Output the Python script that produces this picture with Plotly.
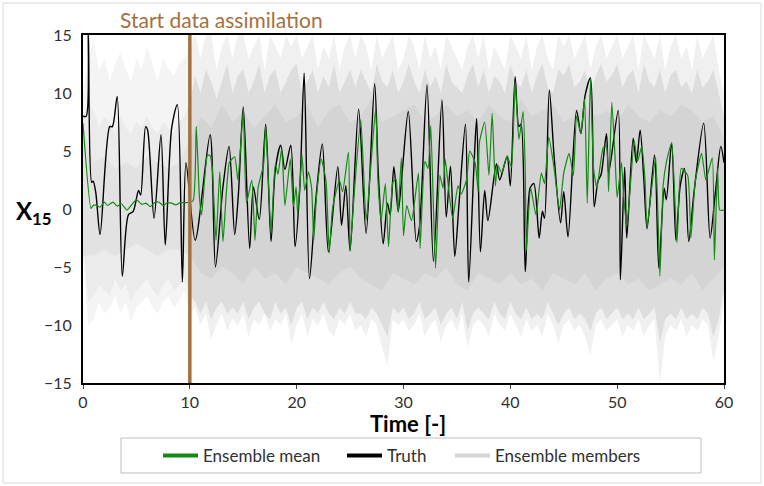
import plotly.graph_objects as go

# ---------------- data ----------------
truth = [(0, 8), (0.3, 8), (0.5, 15.5), (0.81, 2.3), (0.95, 2.4), (1.2, 1.4), (1.6, -2.2),
         (2.5, 7.1), (2.75, 7.1), (3.2, 9.7), (3.68, -5.8), (4.25, -0.5), (4.7, -0.2), (5.2, 1.6),
         (5.4, 1.2), (5.86, 7.1), (6.05, 6.8), (6.65, -0.8), (7.3, 6.4), (7.7, -3.1), (8.3, 7.0),
         (8.83, 9.0), (9.3, -6.3), (9.64, 4.0), (10.5, -2.7), (11.9, 6.4), (12.4, -5.0), (13.1, 1.9),
         (13.67, 5.4), (14.2, -2.2), (14.55, 1.35), (15.0, 8.8), (15.6, -3.4), (15.95, 1.9),
         (16.5, -0.9), (17.1, 7.3), (17.6, -2.8), (18.0, 3.4), (18.5, 5.5), (18.9, 3.4), (19.45, 5.5),
         (19.85, -3.25), (20.3, 1.9), (20.7, 11.7), (21.2, -6.0), (21.8, 0.9), (22.4, 5.6),
         (22.97, -3.7), (23.85, 3.65), (24.2, -1.4), (24.6, 2.0), (25.0, -3.6), (25.8, 8.6),
         (26.5, -2.1), (27.3, 10.8), (27.65, 2.9), (28.1, -3.0), (28.5, 0.5), (28.75, -0.5),
         (29.1, 3.65), (29.5, -0.2), (29.8, 2.3), (30.45, 8.4), (31.2, -2.8), (31.5, -1.5),
         (32.2, 10.7), (32.8, -4.5), (33.6, 9.4), (34.0, -0.7), (34.4, 3.7), (34.8, -4.1),
         (35.2, 0.5), (35.8, 7.3), (36.1, -6.3), (36.6, 3.8), (36.85, 7.8), (37.2, -3.7),
         (37.6, 1.6), (37.9, -1.0), (38.7, 3.9), (39.0, 2.5), (39.7, 4.5), (40.0, 2.0),
         (40.45, 11.4), (40.8, 7.1), (41.0, 7.3), (41.4, -5.4), (41.85, 1.8), (42.2, 2.2),
         (42.7, -2.5), (43.0, -0.2), (43.2, -0.8), (43.65, 10.25), (44.1, 4.5), (44.7, -1.2),
         (45.0, 1.5), (45.4, -2.4), (46.2, 8.5), (46.6, 6.5), (47.0, 9.8), (47.5, 11.3),
         (47.85, 0.2), (48.2, 2.4), (48.5, 3.0), (49.0, 6.5), (49.2, 3.1), (50.1, 8.5),
         (50.3, -6.1), (50.7, 3.6), (50.9, -2.5), (51.5, 6.1), (51.8, 4.0), (52.15, 6.8),
         (52.5, 2.5), (52.8, -1.7), (53.5, 4.65), (53.9, -5.1), (54.4, 1.8), (54.6, 0.8),
         (55.1, 5.7), (55.5, -2.7), (55.9, 2.0), (56.3, 3.5), (56.7, -2.8), (57.2, 1.5),
         (58.1, 7.4), (58.7, -2.5), (59.2, 1.5), (59.7, 5.4), (60, 4.0)]

ens_mean = [(0, 7.4), (0.75, 0.05), (1.0, 0.35), (1.3, 0.3), (1.6, 0.15), (2.0, 0.6), (2.3, 0.3),
            (2.8, 0.6), (3.2, 0.25), (3.6, 0.45), (4.1, -0.1), (4.5, 0.3), (5.0, 0.8), (5.5, 0.4),
            (5.9, 0.5), (6.3, 0.2), (6.7, 0.55), (7.1, 0.6), (7.5, 0.3), (7.9, 0.55), (8.3, 0.5),
            (8.7, 0.35), (9.1, 0.55), (9.7, 0.55), (10.3, 0.7), (10.6, 7.1), (10.9, 1.0),
            (11.1, -0.5), (11.65, 4.65), (11.9, 4.6), (12.1, 3.5), (12.45, -2.7), (12.8, 3.2),
            (13.1, -2.8), (13.7, 4.0), (14.2, 4.5), (14.5, 2.5), (15.0, 8.4), (15.3, 0.5),
            (15.8, 2.5), (16.1, -2.7), (16.4, 1.9), (16.9, 3.8), (17.1, 7.2), (17.6, -2.1),
            (18.0, 3.9), (18.25, 3.0), (18.6, 5.2), (18.9, 0.3), (19.4, 4.3), (19.7, 0.2),
            (19.95, 1.9), (20.1, -0.5), (20.5, 4.65), (20.75, 1.6), (21.1, 3.2), (21.4, 1.8),
            (21.6, -2.7), (21.85, 1.0), (22.3, 4.3), (22.75, 2.4), (23.05, -3.8), (23.35, 0.0),
            (24.0, 2.5), (24.3, 1.5), (24.85, 4.9), (25.0, -3.6), (25.4, 1.5), (26.0, 7.7),
            (26.5, -1.0), (26.9, 3.2), (27.4, 8.7), (27.6, 2.6), (27.9, -1.0), (28.3, 2.2),
            (28.6, -3.25), (29.0, 2.3), (29.3, 2.6), (29.5, -0.3), (29.8, 4.4), (30.0, -2.3),
            (30.3, 0.3), (30.75, -1.0), (31.4, 3.1), (31.55, -3.4), (32.0, 4.1), (32.3, 3.5),
            (32.55, 7.2), (33.0, -5.1), (33.4, 2.9), (33.7, 1.8), (33.9, 4.3), (34.25, 1.5),
            (34.6, -0.8), (35.1, 2.0), (35.4, 1.3), (35.9, 2.5), (36.2, 5.0), (36.7, 4.0),
            (37.0, 1.5), (37.1, 5.7), (37.6, 7.5), (38.0, 2.9), (38.3, 8.25), (38.6, 2.0),
            (38.8, 3.8), (39.2, 3.1), (39.7, 4.6), (40.1, 3.6), (40.45, 11.0), (40.8, 6.0),
            (41.2, 8.4), (41.4, 3.0), (41.5, -3.6), (41.9, 1.8), (42.4, -0.5), (42.9, 3.1),
            (43.2, 2.2), (43.6, 6.2), (44.1, 3.5), (44.6, -0.1), (45.0, 3.1), (45.5, 4.8),
            (45.9, 2.9), (46.2, 8.0), (46.6, 6.5), (46.95, 9.5), (47.2, 0.5), (47.5, 11.2),
            (47.8, 3.4), (48.1, 1.8), (48.7, 5.3), (49.0, 5.4), (49.2, 1.5), (49.5, 9.2),
            (49.8, 4.5), (50.0, 1.0), (50.4, 4.0), (50.6, 1.2), (50.9, -1.5), (51.6, 5.8),
            (51.9, 4.1), (52.3, 5.4), (52.6, 2.6), (52.8, -1.5), (53.6, 4.45), (54.0, -5.8),
            (54.3, 2.0), (54.6, 4.0), (55.1, 5.7), (55.6, -2.9), (56.0, 3.5), (56.6, 2.9),
            (56.9, -2.5), (57.3, 2.3), (57.9, 4.8), (58.3, 2.5), (58.9, 4.4), (59.1, -4.4),
            (59.4, 3.5), (59.6, -0.1), (60.0, -0.1)]

# ensemble-member spread, outer envelope, every 0.5 time unit
members_max = [10, 13, 14.5, 12, 13, 11, 12.5, 13.5, 12, 11, 13, 12, 14, 12.5, 11, 13, 12, 11.5, 12.5, 13,
               14, 15, 13, 15, 15, 12, 14, 15, 13, 15, 15, 13, 14, 15, 12, 15, 14, 13, 15, 14,
               15, 13, 14, 15, 12, 14, 13, 15, 12, 14, 15, 13, 15, 14, 12, 15, 13, 14, 15, 12,
               13, 15, 14, 12, 15, 13, 14, 12, 15, 14, 13, 12, 14, 15, 13, 15, 12, 14, 13, 12,
               15, 14, 13, 15, 12, 14, 15, 13, 12, 15, 14, 15, 13, 14, 15, 12, 14, 15, 13, 14,
               15, 13, 14, 15, 12, 15, 14, 13, 15, 12, 14, 15, 13, 14, 12, 15, 13, 14, 15, 12, 10]
members_min = [-4, -10, -9.5, -8, -9, -8.5, -7.5, -9, -8, -9.7, -8.5, -8, -7.5, -8.5, -9, -8, -7.5, -8.5, -8, -7,
               -9, -8.5, -10, -9, -11.3, -10, -9, -10.5, -9.5, -10, -9, -11, -9.5, -10, -9, -10.5, -9.5, -10, -9, -11.6,
               -10, -9, -11, -9.5, -10, -9, -10.5, -11, -9.5, -10, -9, -10.5, -10, -11, -9.5, -10, -12, -13.5, -9.5, -10,
               -9.5, -10.5, -10, -9, -11, -10, -9.5, -11.5, -10, -9.5, -10.5, -9, -12, -10, -9.5, -10, -11, -9, -10, -10.5,
               -9, -10, -11, -9.5, -10.5, -10, -11, -9, -10, -11.5, -10, -9.5, -10.5, -10, -11, -12.6, -10, -9.5, -10.5, -10,
               -9.5, -11, -10, -10.5, -9.5, -11, -10, -9.5, -15, -11, -10, -10.5, -9.5, -11, -10, -10.5, -9.5, -10, -13.2, -11, -8]

# middle envelope (where most members lie), every 0.5 time unit
members_mid_upper = [8, 9, 8.5, 7, 8, 7.5, 6.5, 8, 7, 6.5, 7.5, 7, 8, 7, 6.5, 7.5, 7, 6.5, 7.5, 8,
                     9, 11.5, 10, 12, 11, 9.5, 11, 12.5, 10, 11.5, 12, 10, 11, 12.5, 10, 11.5, 12, 10, 11, 12,
                     12.5, 10, 11, 12, 10, 11.5, 10.5, 12.5, 10, 11, 12, 10.5, 12, 11, 10, 12.5, 11, 10.5, 12, 10,
                     11, 12.5, 11, 10, 12, 10.5, 11.5, 10, 12.5, 11, 10.5, 10, 11.5, 12.5, 10.5, 12, 10, 11.5, 11, 10,
                     12.5, 11, 10.5, 12, 10, 11.5, 12.5, 10.5, 10, 12, 11.5, 12.5, 10.5, 11, 12, 10, 11.5, 12.5, 11, 11.5,
                     12.5, 10.5, 11.5, 12, 10, 12.5, 11, 10.5, 12, 10, 11.5, 12, 10.5, 11, 10, 12, 10.5, 11, 12, 10, 8]
members_mid_lower = [-3, -8, -7.5, -6.5, -7, -7.5, -6, -7, -6.5, -8, -7, -6.5, -6, -7, -7.5, -6.5, -6, -7, -6.5, -6,
                     -7.5, -8, -9, -8, -9.5, -8.5, -8, -9, -8.5, -9, -8, -9.5, -8.5, -8, -9, -9.5, -8, -9, -8.5, -10,
                     -8.5, -8, -9.5, -8.5, -9, -8, -9, -9.5, -8.5, -9, -8, -9, -9, -9.5, -8.5, -9, -10, -11, -8.5, -9,
                     -8.5, -9.5, -9, -8, -9.5, -9, -8.5, -10, -9, -8.5, -9.5, -8, -10.5, -9, -8.5, -9, -9.5, -8, -9, -9.5,
                     -8, -9, -9.5, -8.5, -9.5, -9, -9.5, -8, -9, -10, -9, -8.5, -9.5, -9, -9.5, -10.5, -9, -8.5, -9.5, -9,
                     -8.5, -9.5, -9, -9.5, -8.5, -9.5, -9, -8.5, -11.5, -9.5, -9, -9.5, -8.5, -9.5, -9, -9.5, -8.5, -9, -11, -9.5, -7]

# dense core of the ensemble, every 1 time unit
core_upper = [7, 4, 4.5, 3.5, 4, 3.5, 4.5, 4, 3.5, 4,
              6, 8, 7, 9, 7.5, 8.5, 7, 8, 9, 7.5, 8, 9, 7, 8.5, 9, 7.5, 8, 9.5, 7.5, 8,
              8.5, 9, 7.5, 8, 9, 8, 8.5, 7.5, 9, 8, 7.5, 9.5, 8, 8.5, 9, 7.5, 8, 9, 8, 8.5,
              7.5, 9, 8, 7.5, 8.5, 8, 9, 8.5, 7.5, 8, 6]
core_lower = [-4, -4, -3.5, -4, -3.5, -3, -3.5, -4, -3.5, -3.5,
              -4, -5.5, -6, -5, -5.5, -6.5, -5, -6, -5.5, -6.5, -5, -5.5, -6, -6.5, -5.5, -5, -6, -6.5, -7, -5.5,
              -6, -6.5, -5.5, -6, -5, -6.5, -7, -5.5, -6, -6.5, -5.5, -6.5, -6, -7, -5.5, -6, -6.5, -5.5, -7, -6,
              -5.5, -6.5, -6, -7, -6.5, -6, -6.5, -5.5, -7, -6, -5]

x_ticks = [0, 10, 20, 30, 40, 50, 60]
y_ticks = [-15, -10, -5, 0, 5, 10, 15]
assimilation_start = 10

# ---------------- figure ----------------
FONT = "Lato, 'Open Sans', sans-serif"
fig = go.Figure()


def band(tlist, up, lo, color):
    xs = list(tlist) + list(reversed(tlist))
    ys = list(up) + list(reversed(lo))
    fig.add_trace(go.Scatter(x=xs, y=ys, fill="toself", fillcolor=color, mode="none",
                             hoverinfo="skip", showlegend=False))


def split_band(step, up, lo, c_pre, c_post):
    t = [i * step for i in range(len(up))]
    k = int(round(assimilation_start / step))
    band(t[:k + 1], up[:k + 1], lo[:k + 1], c_pre)
    band(t[k:], up[k:], lo[k:], c_post)


split_band(0.5, members_max, members_min, "rgb(244,244,244)", "rgb(240,240,240)")
split_band(0.5, members_mid_upper, members_mid_lower, "rgb(235,235,235)", "rgb(221,221,221)")
split_band(1.0, core_upper, core_lower, "rgb(226,226,226)", "rgb(212,212,212)")

tt, tv = zip(*truth)
fig.add_trace(go.Scatter(x=tt, y=tv, mode="lines", line=dict(color="black", width=1.4,
                         shape="spline", smoothing=0.8), showlegend=False, hoverinfo="skip"))
mt, mv = zip(*ens_mean)
fig.add_trace(go.Scatter(x=mt, y=mv, mode="lines", line=dict(color="#138a13", width=1.2,
                         shape="spline", smoothing=0.5), showlegend=False, hoverinfo="skip"))


def px(xp):
    return (xp - 83) / 641.0


def py(yp):
    return (383 - yp) / 348.0


# legend-only entries, each in its own legend so the spacing matches
LEG_FONT = dict(family=FONT, size=17, color="#303030")
entries = [("Ensemble mean", "#138a13", "legend", 158),
           ("Truth", "black", "legend2", 342),
           ("Ensemble members", "#d6d6d6", "legend3", 450)]
legend_layouts = {}
for name, col, lg, xpix in entries:
    fig.add_trace(go.Scatter(x=[None], y=[None], mode="lines", name=name, legend=lg,
                             line=dict(color=col, width=4)))
    legend_layouts[lg] = dict(orientation="h", x=px(xpix), xanchor="left", y=py(456), yanchor="middle",
                              bgcolor="rgba(0,0,0,0)", font=LEG_FONT, itemwidth=35)

fig.add_shape(type="line", x0=assimilation_start, x1=assimilation_start, y0=-15, y1=15,
              xref="x", yref="y", line=dict(color="#a5703f", width=3.5), layer="above")

fig.add_shape(type="rect", xref="paper", yref="paper", x0=px(3), x1=px(761), y0=py(483), y1=py(3),
              line=dict(color="#d9d9d9", width=1), layer="below")
fig.add_shape(type="rect", xref="paper", yref="paper", x0=px(121), x1=px(701), y0=py(473), y1=py(438),
              line=dict(color="#bfbfbf", width=1), fillcolor="white", layer="below")

fig.add_annotation(text="Start data assimilation", xref="paper", yref="paper", x=px(221), y=py(20),
                   xanchor="center", yanchor="middle",
                   showarrow=False, font=dict(family=FONT, size=21, color="#a5703f"))
fig.add_annotation(text="<b>Time [-]</b>", xref="paper", yref="paper", x=px(408), y=py(423),
                   xanchor="center", yanchor="middle",
                   showarrow=False, font=dict(family=FONT, size=22, color="black"))
fig.add_annotation(text="<b>X<sub>15</sub></b>", xref="paper", yref="paper", x=px(34), y=py(212),
                   xanchor="center", yanchor="middle",
                   showarrow=False, font=dict(family=FONT, size=24, color="black"))

fig.update_layout(
    width=764, height=486, margin=dict(l=83, r=40, t=35, b=103),
    paper_bgcolor="white", plot_bgcolor="white",
    font=dict(family=FONT, size=16, color="#303030"),
    showlegend=True,
    **legend_layouts,
)
fig.update_xaxes(range=[0, 60], tickvals=x_ticks, showgrid=False, zeroline=False,
                 showline=True, linecolor="black", linewidth=2, mirror=True,
                 ticks="outside", ticklen=4, tickcolor="#404040")
fig.update_yaxes(range=[-15, 15], tickvals=y_ticks, showgrid=False, zeroline=False,
                 showline=True, linecolor="black", linewidth=2, mirror=True,
                 ticks="", ticklabelstandoff=6)

fig.write_html("out.html")
